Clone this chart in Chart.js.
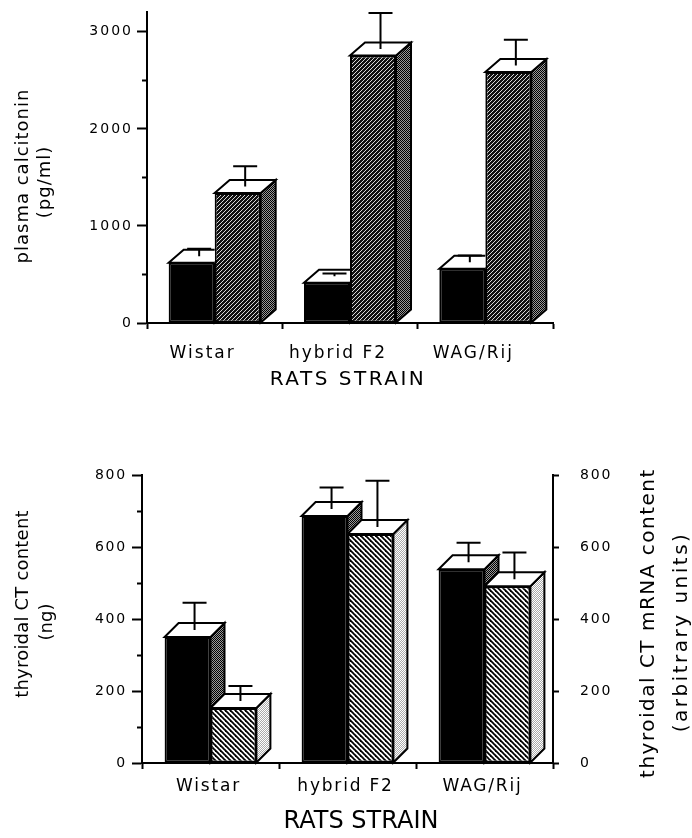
<!DOCTYPE html>
<html lang="en">
<head>
  <meta charset="UTF-8" />
  <title>Calcitonin by rat strain</title>
  <script src="https://cdn.jsdelivr.net/npm/chart.js"></script>
  <style>
    * { box-sizing: border-box; }
    body {
      margin: 0;
      width: 692px;
      height: 838px;
      background: #fff;
      position: relative;
      overflow: hidden;
    }
    .panel { position: absolute; left: 0; width: 692px; }
    #topPanel { top: 0; height: 420px; }
    #bottomPanel { top: 420px; height: 418px; }
  </style>
</head>
<body>
  <div class="panel" id="topPanel"><canvas id="plasmaChart"></canvas></div>
  <div class="panel" id="bottomPanel"><canvas id="thyroidChart"></canvas></div>

  <script>
    const strains = ['Wistar', 'hybrid F2', 'WAG/Rij'];

    // upper panel - plasma calcitonin (pg/ml), mean and SEM
    const plasmaSolid = [620, 415, 560];
    const plasmaSolidSem = [145, 95, 135];
    const plasmaHatched = [1340, 2755, 2585];
    const plasmaHatchedSem = [275, 440, 333];
    const plasmaTicks = [0, 1000, 2000, 3000];
    const plasmaMinorTicks = [500, 1500, 2500];

    // lower panel - thyroidal CT content (ng) and CT mRNA (arbitrary units)
    const ctContent = [350, 686, 538];
    const ctContentSem = [95, 79, 74];
    const ctMrna = [153, 636, 491];
    const ctMrnaSem = [61, 148, 94];
    const thyroidTicks = [0, 200, 400, 600, 800];

    Chart.defaults.font.family = "'DejaVu Sans', sans-serif";
    Chart.defaults.color = '#000';

    function makePattern(size, paint) {
      const c = document.createElement('canvas');
      c.width = c.height = size;
      const g = c.getContext('2d');
      paint(g, size);
      return g.createPattern(c, 'repeat');
    }

    // dark fill with fine white "/" lines
    const darkHatch = makePattern(4, (g, s) => {
      g.fillStyle = '#111';
      g.fillRect(0, 0, s, s);
      g.strokeStyle = '#d8d8d8';
      g.lineWidth = 1;
      for (const k of [-1, 0, 1]) {
        g.beginPath();
        g.moveTo(-1, s + 1 + k * s);
        g.lineTo(s + 1, -1 + k * s);
        g.stroke();
      }
    });

    // white fill with black "\" lines
    const lightHatch = makePattern(5, (g, s) => {
      g.fillStyle = '#fff';
      g.fillRect(0, 0, s, s);
      g.strokeStyle = '#000';
      g.lineWidth = 1.8;
      for (const k of [-1, 0, 1]) {
        g.beginPath();
        g.moveTo(-1, -1 + k * s);
        g.lineTo(s + 1, s + 1 + k * s);
        g.stroke();
      }
    });

    const darkStipple = makePattern(2, g => {
      g.fillStyle = '#999';
      g.fillRect(0, 0, 2, 2);
      g.fillStyle = '#000';
      g.fillRect(0, 0, 1, 1);
      g.fillRect(1, 1, 1, 1);
    });

    const lightStipple = makePattern(2, g => {
      g.fillStyle = '#fff';
      g.fillRect(0, 0, 2, 2);
      g.fillStyle = '#aaa';
      g.fillRect(1, 0, 1, 1);
      g.fillRect(0, 1, 1, 1);
    });

    // side faces, top faces and SEM bars around the flat Chart.js bars
    const boxes3d = {
      id: 'boxes3d',
      beforeDatasetsDraw(chart, args, opts) {
        const ctx = chart.ctx;
        ctx.save();
        ctx.lineWidth = 2;
        ctx.strokeStyle = '#000';
        chart.data.datasets.forEach((ds, d) => {
          chart.getDatasetMeta(d).data.forEach(bar => {
            const {x, y, base, width} = bar.getProps(['x', 'y', 'base', 'width'], true);
            const r = x + width / 2;
            ctx.beginPath();
            ctx.moveTo(r, y);
            ctx.lineTo(r + opts.dx, y - opts.dy);
            ctx.lineTo(r + opts.dx, base - opts.dy);
            ctx.lineTo(r, base);
            ctx.closePath();
            ctx.fillStyle = ds.sideColor;
            ctx.fill();
            ctx.stroke();
          });
        });
        ctx.restore();
      },
      afterDatasetDraw(chart, args, opts) {
        const ctx = chart.ctx;
        const ds = chart.data.datasets[args.index];
        const yScale = chart.scales[args.meta.yAxisID];
        ctx.save();
        // keep top faces behind the other series' front faces
        ctx.beginPath();
        ctx.rect(0, 0, chart.width, chart.height);
        chart.data.datasets.forEach((o, d) => {
          if (d === args.index) return;
          chart.getDatasetMeta(d).data.forEach(bar => {
            const p = bar.getProps(['x', 'y', 'base', 'width'], true);
            ctx.rect(p.x - p.width / 2, p.y, p.width, p.base - p.y);
          });
        });
        ctx.clip('evenodd');
        ctx.lineWidth = 2;
        ctx.strokeStyle = '#000';
        args.meta.data.forEach((bar, i) => {
          const {x, y, width} = bar.getProps(['x', 'y', 'base', 'width'], true);
          const l = x - width / 2, r = x + width / 2;
          ctx.beginPath();
          ctx.moveTo(l, y);
          ctx.lineTo(l + opts.dx, y - opts.dy);
          ctx.lineTo(r + opts.dx, y - opts.dy);
          ctx.lineTo(r, y);
          ctx.closePath();
          ctx.fillStyle = '#fff';
          ctx.fill();
          ctx.stroke();

          const cx = x + opts.dx / 2;
          const cy = y - opts.dy / 2;
          const capY = yScale.getPixelForValue(ds.data[i] + ds.sem[i]);
          ctx.beginPath();
          ctx.moveTo(cx, cy);
          ctx.lineTo(cx, capY);
          ctx.moveTo(cx - 12, capY);
          ctx.lineTo(cx + 12, capY);
          ctx.stroke();
        });
        ctx.restore();
      }
    };

    // letter spacing for tick text and the axis titles
    const axisText = {
      id: 'axisText',
      beforeDraw(chart, args, opts) {
        chart.ctx.letterSpacing = opts.tickSpacing + 'px';
      },
      afterDraw(chart, args, opts) {
        const ctx = chart.ctx;
        opts.texts.forEach(t => {
          ctx.save();
          ctx.font = t.size + "px 'DejaVu Sans', sans-serif";
          ctx.letterSpacing = (t.spacing || 0) + 'px';
          ctx.fillStyle = '#000';
          ctx.textAlign = 'center';
          ctx.textBaseline = 'alphabetic';
          ctx.translate(t.x, t.y);
          if (t.rotate) ctx.rotate(-Math.PI / 2);
          ctx.fillText(t.text, 0, 0);
          ctx.restore();
        });
      }
    };

    const barStyle = {
      borderColor: '#000',
      borderWidth: 2,
      borderSkipped: false,
      barPercentage: 1
    };

    const minorDash = [0, 5, 5, 0];

    new Chart(document.getElementById('plasmaChart'), {
      type: 'bar',
      data: {
        labels: strains,
        datasets: [
          { label: 'solid', data: plasmaSolid, sem: plasmaSolidSem, backgroundColor: '#000',
            sideColor: darkStipple, categoryPercentage: 0.68, ...barStyle },
          { label: 'hatched', data: plasmaHatched, sem: plasmaHatchedSem, backgroundColor: darkHatch,
            sideColor: darkStipple, categoryPercentage: 0.68, ...barStyle }
        ]
      },
      options: {
        responsive: true,
        maintainAspectRatio: false,
        animation: false,
        layout: { padding: { top: 10, right: 139, left: 0, bottom: 0 } },
        plugins: {
          legend: { display: false },
          tooltip: { enabled: false },
          boxes3d: { dx: 15, dy: 13 },
          axisText: {
            tickSpacing: 2,
            texts: [
              { text: 'plasma calcitonin', x: 28, y: 176, rotate: true, size: 18, spacing: 1 },
              { text: '(pg/ml)', x: 50, y: 182, rotate: true, size: 18, spacing: 1 },
              { text: 'RATS STRAIN', x: 348, y: 385, size: 20, spacing: 2.5 }
            ]
          }
        },
        scales: {
          x: {
            afterFit: s => { s.height = 97; },
            grid: { drawOnChartArea: false, tickLength: 6, tickColor: '#000', tickWidth: 2 },
            border: { color: '#000', width: 2 },
            ticks: { font: { size: 17 }, padding: 14, labelOffset: -12 }
          },
          y: {
            min: 0,
            max: 3200,
            afterFit: s => { s.width = 147; },
            afterBuildTicks: s => {
              s.ticks = plasmaTicks.concat(plasmaMinorTicks)
                .sort((a, b) => a - b)
                .map(v => ({ value: v }));
            },
            grid: {
              drawOnChartArea: false,
              tickLength: 10,
              tickWidth: 2,
              tickColor: '#000',
              tickBorderDash: c => (c.tick && plasmaTicks.includes(c.tick.value)) ? [] : minorDash
            },
            border: { color: '#000', width: 2 },
            ticks: {
              autoSkip: false,
              font: { size: 14 },
              padding: 4,
              callback: v => plasmaTicks.includes(v) ? String(v) : ''
            }
          }
        }
      },
      plugins: [boxes3d, axisText]
    });

    new Chart(document.getElementById('thyroidChart'), {
      type: 'bar',
      data: {
        labels: strains,
        datasets: [
          { label: 'thyroidal CT content', data: ctContent, sem: ctContentSem, backgroundColor: '#000',
            sideColor: darkStipple, yAxisID: 'y', categoryPercentage: 0.67, ...barStyle },
          { label: 'thyroidal CT mRNA content', data: ctMrna, sem: ctMrnaSem, backgroundColor: lightHatch,
            sideColor: lightStipple, yAxisID: 'y2', categoryPercentage: 0.67, ...barStyle }
        ]
      },
      options: {
        responsive: true,
        maintainAspectRatio: false,
        animation: false,
        layout: { padding: { top: 55, right: 0, left: 0, bottom: 0 } },
        plugins: {
          legend: { display: false },
          tooltip: { enabled: false },
          boxes3d: { dx: 14, dy: 14 },
          axisText: {
            tickSpacing: 1.8,
            texts: [
              { text: 'thyroidal CT content', x: 28, y: 184, rotate: true, size: 18, spacing: 0.2 },
              { text: '(ng)', x: 52, y: 202, rotate: true, size: 18 },
              { text: 'thyroidal CT mRNA content', x: 654, y: 203, rotate: true, size: 20, spacing: 1.5 },
              { text: '(arbitrary units)', x: 687, y: 212, rotate: true, size: 20, spacing: 2.5 },
              { text: 'RATS STRAIN', x: 361, y: 408, size: 24 }
            ]
          }
        },
        scales: {
          x: {
            afterFit: s => { s.height = 75; },
            grid: { drawOnChartArea: false, tickLength: 6, tickColor: '#000', tickWidth: 2 },
            border: { color: '#000', width: 2 },
            ticks: { font: { size: 17 }, padding: 7, labelOffset: -2 }
          },
          y: {
            position: 'left',
            min: 0,
            max: 800,
            afterFit: s => { s.width = 142; },
            grid: {
              drawOnChartArea: false,
              tickLength: 10,
              tickWidth: 2,
              tickColor: '#000',
              tickBorderDash: c => (c.tick && thyroidTicks.includes(c.tick.value)) ? [] : minorDash
            },
            border: { color: '#000', width: 2 },
            ticks: {
              stepSize: 100,
              font: { size: 14 },
              padding: 5,
              callback: v => thyroidTicks.includes(v) ? String(v) : ''
            }
          },
          y2: {
            position: 'right',
            min: 0,
            max: 800,
            afterFit: s => { s.width = 139; },
            grid: { drawOnChartArea: false, tickLength: 6, tickWidth: 2, tickColor: '#000' },
            border: { color: '#000', width: 2 },
            ticks: {
              stepSize: 200,
              font: { size: 14 },
              padding: 21,
              callback: v => thyroidTicks.includes(v) ? String(v) : ''
            }
          }
        }
      },
      plugins: [boxes3d, axisText]
    });
  </script>
</body>
</html>
